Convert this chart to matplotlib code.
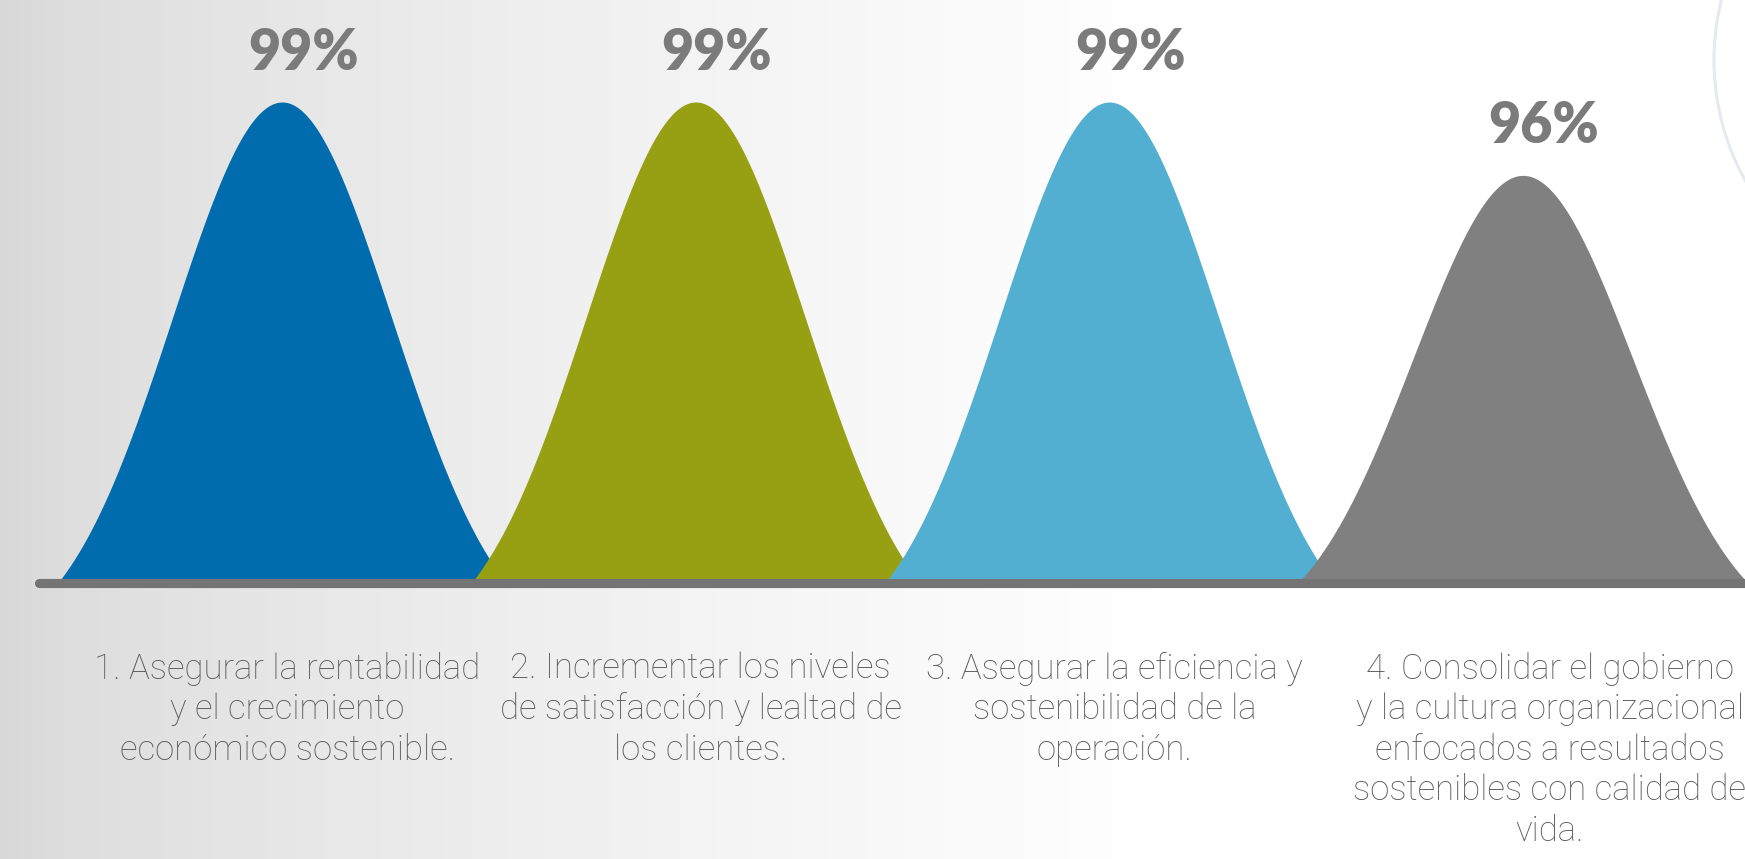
import numpy as np
import matplotlib
import matplotlib.pyplot as plt
from matplotlib.transforms import IdentityTransform

# data
valores = [99, 99, 99, 96]
etiquetas_pct = ["99%", "99%", "99%", "96%"]
colores = ["#006CAD", "#97A012", "#53AFD2", "#808080"]
textos = [
    "1. Asegurar la rentabilidad\ny el crecimiento\neconómico sostenible.",
    "2. Incrementar los niveles\nde satisfacción y lealtad de\nlos clientes.",
    "3. Asegurar la eficiencia y\nsostenibilidad de la\noperación.",
    "4. Consolidar el gobierno\ny la cultura organizacional\nenfocados a resultados\nsostenibles con calidad de\nvida.",
]

BASE = 79.5          # valor que cae sobre la linea base
sigma = 0.265        # ancho de cada campana (en unidades de categoria)
d = 0.15             # corte de la gaussiana bajo la base

W, H = 1745, 859
fig = plt.figure(figsize=(W / 100, H / 100), dpi=100)
ax = fig.add_axes([0, 0, 1, 1])
ax.set_xlim(-0.682, 3.537)
ax.set_ylim(68.05, 103.17)
ax.axis("off")

# fondo degradado gris -> blanco
t = np.clip(np.linspace(0, W, 800) / 1150, 0, 1)
g = 0.847 + 0.153 * t ** 0.7
grad = np.dstack([g, g, g]).repeat(2, axis=0)
ax.imshow(grad, extent=[-0.682, 3.537, 68.05, 103.17], aspect="auto", zorder=0)

# circulo decorativo arriba a la derecha
circ = matplotlib.patches.Circle((1962, H - 60), 248, transform=IdentityTransform(),
                                 fill=False, ec="#e3ebf2", lw=2.2, zorder=1)
fig.patches.append(circ)

for i, v in enumerate(valores):
    x = np.linspace(i - 0.6, i + 0.6, 600)
    f = (1 + d) * np.exp(-(x - i) ** 2 / (2 * sigma ** 2)) - d
    y = BASE + (v - BASE) * f
    m = y >= BASE
    ax.fill_between(x[m], BASE, y[m], color=colores[i], lw=0, zorder=2 + i)
    ax.annotate(etiquetas_pct[i], (i, v), xytext=(21, 23), textcoords="offset pixels",
                ha="center", va="bottom", fontsize=40, fontweight="heavy",
                family="Lato", color="#7b7b7b", zorder=10)
    dx = 27 if i == 3 else 5
    ax.annotate(textos[i], (i, BASE), xytext=(dx, -73), textcoords="offset pixels",
                ha="center", va="top", fontsize=25, fontweight="light",
                family="Roboto", color="#5c5c5c", linespacing=1.26,
                annotation_clip=False, zorder=10)

# linea base
ax.plot([-0.588, 3.6], [BASE - 0.184, BASE - 0.184], color="#747474", lw=6.6,
        solid_capstyle="round", zorder=8)

plt.savefig("out.png", dpi=100)
